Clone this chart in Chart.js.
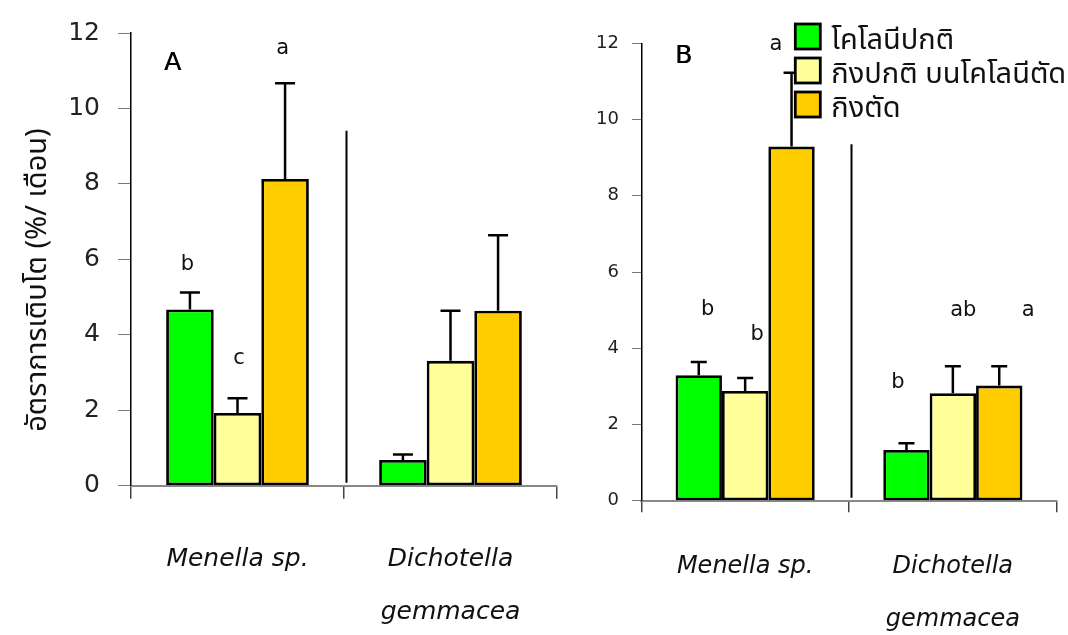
<!DOCTYPE html>
<html>
<head>
<meta charset="utf-8">
<script src="https://cdn.jsdelivr.net/npm/chart.js@4"></script>
<style>
  html, body { margin: 0; padding: 0; background: #fff; }
  #wrap { position: relative; width: 1068px; height: 635px; }
  canvas { position: absolute; top: 0; }
  #chartA { left: 0; }
  #chartB { left: 560px; }
</style>
</head>
<body>
<div id="wrap">
  <canvas id="chartA" width="560" height="635"></canvas>
  <canvas id="chartB" width="508" height="635"></canvas>
</div>
<script>
// categories and series
const categories = ["Menella sp.", ["Dichotella", "gemmacea"]];
const seriesNames = ["โคโลนีปกติ", "กิงปกติ บนโคโลนีตัด", "กิงตัด"];
const seriesColors = ["#00ff00", "#ffff99", "#ffcc00"];
const yTicks = [0, 2, 4, 6, 8, 10, 12];

// panel A: mean growth rate (%/month) and error
const valuesA_normal = [4.67, 0.68];
const valuesA_branch = [1.93, 3.31];
const valuesA_cut = [8.13, 4.64];
const errA_normal = [0.45, 0.15];
const errA_branch = [0.39, 1.33];
const errA_cut = [2.54, 2.0];

// panel B
const valuesB_normal = [3.29, 1.33];
const valuesB_branch = [2.88, 2.82];
const valuesB_cut = [9.29, 3.02];
const errB_normal = [0.35, 0.18];
const errB_branch = [0.34, 0.71];
const errB_cut = [1.94, 0.51];

// significance letters (cat, dataset, text, baseline value)
const lettersA = [
  { cat: 0, ds: 0, text: "b", y: 5.73 },
  { cat: 0, ds: 1, text: "c", y: 3.23 },
  { cat: 0, ds: 2, text: "a", y: 11.44 }
];
const lettersB = [
  { cat: 0, ds: 0, text: "b", y: 4.87 },
  { cat: 0, ds: 1, text: "b", y: 4.21 },
  { cat: 0, ds: 2, text: "a", y: 11.82 },
  { cat: 1, ds: 0, text: "b", y: 2.96 },
  { cat: 1, ds: 1, text: "ab", y: 4.85 },
  { cat: 1, ds: 2, text: "a", y: 4.85 }
];
const yTitle = "อัตราการเติบโต (%/ เดือน)";

const latin = "'DejaVu Sans', sans-serif";
const thai = "'Noto Sans Thai', 'Noto Sans Thai UI', 'Loma', 'Garuda', 'Tlwg Typo', 'Norasi', 'DejaVu Sans', sans-serif";

const panelDecor = {
  id: "panelDecor",
  afterDatasetsDraw(chart, args, opts) {
    const ctx = chart.ctx;
    const y = chart.scales.y;
    const x = chart.scales.x;
    const area = chart.chartArea;
    ctx.save();

    // error bars
    ctx.strokeStyle = "#000";
    ctx.lineWidth = 2.5;
    opts.errors.forEach((errs, i) => {
      const meta = chart.getDatasetMeta(i);
      const vals = chart.data.datasets[i].data;
      meta.data.forEach((bar, j) => {
        const y0 = y.getPixelForValue(vals[j]);
        const y1 = y.getPixelForValue(vals[j] + errs[j]);
        ctx.beginPath();
        ctx.moveTo(bar.x, y0);
        ctx.lineTo(bar.x, y1);
        ctx.moveTo(bar.x - opts.cap, y1);
        ctx.lineTo(bar.x + opts.cap, y1);
        ctx.stroke();
      });
    });

    // letters
    ctx.fillStyle = "#111";
    ctx.font = "21px " + latin;
    ctx.textAlign = "center";
    ctx.textBaseline = "alphabetic";
    opts.letters.forEach((l, k) => {
      const bar = chart.getDatasetMeta(l.ds).data[l.cat];
      ctx.fillText(l.text, bar.x + opts.letterDx[k], y.getPixelForValue(l.y));
    });

    // divider between species
    const dx = (x.getPixelForValue(0) + x.getPixelForValue(1)) / 2 + 2.5;
    ctx.lineWidth = 2;
    ctx.beginPath();
    ctx.moveTo(dx, y.getPixelForValue(opts.dividerTop));
    ctx.lineTo(dx, y.getPixelForValue(0.08));
    ctx.stroke();

    // panel label
    ctx.fillStyle = "#000";
    ctx.textAlign = "left";
    ctx.font = "25px " + latin;
    ctx.fillText(opts.panel, area.left + opts.panelPos[0], area.top + opts.panelPos[1]);
    ctx.fillText(opts.panel, area.left + opts.panelPos[0] + 0.6, area.top + opts.panelPos[1]);

    // y title
    if (opts.yTitle) {
      ctx.save();
      ctx.translate(46, 280);
      ctx.rotate(-Math.PI / 2);
      ctx.textAlign = "center";
      ctx.textBaseline = "alphabetic";
      ctx.fillStyle = "#111";
      ctx.font = "29px " + thai;
      ctx.fillText(opts.yTitle, 0, 0);
      ctx.restore();
    }

    // legend
    if (opts.legend) {
      const lx = area.left + 154;
      seriesNames.forEach((name, i) => {
        const top = 24 + i * 34;
        ctx.fillStyle = seriesColors[i];
        ctx.fillRect(lx, top, 25, 25);
        ctx.lineWidth = 2.8;
        ctx.strokeStyle = "#000";
        ctx.strokeRect(lx, top, 25, 25);
        ctx.fillStyle = "#111";
        ctx.font = "29px " + thai;
        ctx.textAlign = "left";
        ctx.textBaseline = "alphabetic";
        ctx.fillText(name, lx + 36, top + 25);
      });
    }
    ctx.restore();
  }
};

function buildPanel(canvas, cfg) {
  return new Chart(canvas, {
    type: "bar",
    data: {
      labels: categories,
      datasets: cfg.values.map((vals, i) => ({
        label: seriesNames[i],
        data: vals,
        backgroundColor: seriesColors[i],
        borderColor: "#000",
        borderWidth: 2.8,
        borderSkipped: false,
        categoryPercentage: 0.67,
        barPercentage: 1.0
      }))
    },
    options: {
      responsive: false,
      devicePixelRatio: 1,
      animation: false,
      layout: { padding: cfg.padding },
      plugins: {
        legend: { display: false },
        tooltip: { enabled: false },
        panelDecor: cfg.decor
      },
      scales: {
        x: {
          grid: { offset: true, drawOnChartArea: false, tickLength: cfg.xTickLength, color: "#444", lineWidth: 1.5 },
          border: { display: true, color: "#888", width: 2 },
          ticks: {
            padding: cfg.xPad, color: "#111", maxRotation: 0, autoSkip: false,
            font: { family: latin, size: cfg.xFont, style: "italic", lineHeight: 53 / cfg.xFont }
          },
          afterFit: s => { s.height = 635 - cfg.bottom; }
        },
        y: {
          min: 0, max: 12,
          afterBuildTicks: s => { s.ticks = yTicks.map(v => ({ value: v })); },
          ticks: { padding: cfg.yPad, color: "#222", font: { family: latin, size: cfg.yFont } },
          grid: { drawOnChartArea: false, tickLength: cfg.yTickLength, color: "#777", lineWidth: 1 },
          border: { display: true, color: "#000", width: 1.5 },
          afterFit: s => { s.width = cfg.left; }
        }
      }
    },
    plugins: [panelDecor]
  });
}

buildPanel(document.getElementById("chartA"), {
  values: [valuesA_normal, valuesA_branch, valuesA_cut],
  padding: { top: 29.3, right: 3, left: 0, bottom: 0 },
  left: 131, bottom: 485.7,
  xTickLength: 13, xPad: 34.5, xFont: 25,
  yTickLength: 13, yPad: 18, yFont: 25,
  decor: {
    errors: [errA_normal, errA_branch, errA_cut], cap: 10,
    letters: lettersA, letterDx: [-2.5, 1.5, -2.5],
    dividerTop: 9.41, panel: "A", panelPos: [33, 37.4],
    yTitle: yTitle, legend: false
  }
});

buildPanel(document.getElementById("chartB"), {
  values: [valuesB_normal, valuesB_branch, valuesB_cut],
  padding: { top: 43.3, right: 11.3, left: 0, bottom: 0 },
  left: 81.3, bottom: 500.7,
  xTickLength: 11.5, xPad: 28, xFont: 24,
  yTickLength: 9.3, yPad: 13, yFont: 18,
  decor: {
    errors: [errB_normal, errB_branch, errB_cut], cap: 8,
    letters: lettersB, letterDx: [9, 12, -15.7, -8.5, 10.5, 29],
    dividerTop: 9.35, panel: "B", panelPos: [33.7, 20],
    yTitle: null, legend: true
  }
});
</script>
</body>
</html>
